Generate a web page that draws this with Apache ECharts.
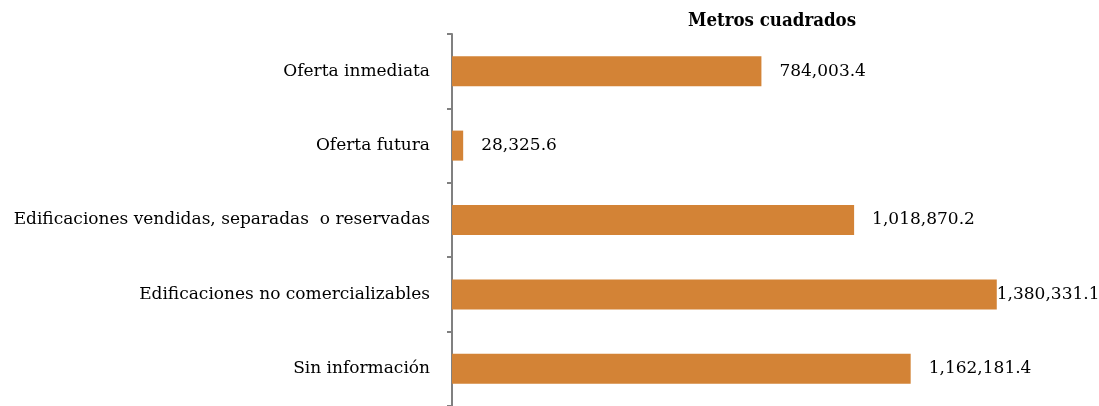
<!DOCTYPE html>
<html>
<head>
<meta charset="utf-8">
<script src="https://cdn.jsdelivr.net/npm/echarts@6/dist/echarts.min.js"></script>
<style>
html,body{margin:0;padding:0;background:#fff;}
#chart{width:1099px;height:406px;}
</style>
</head>
<body>
<div id="chart"></div>
<script>
const categories = [
  "Oferta inmediata",
  "Oferta futura",
  "Edificaciones vendidas, separadas  o reservadas",
  "Edificaciones no comercializables",
  "Sin información"
];
const values = [784003.4, 28325.6, 1018870.2, 1380331.1, 1162181.4];
const titleText = "Metros cuadrados";

function fmt(v) {
  const parts = v.toFixed(1).split(".");
  parts[0] = parts[0].replace(/\B(?=(\d{3})+(?!\d))/g, ",");
  return parts.join(".");
}

const maxVal = Math.max(...values);
const chart = echarts.init(document.getElementById("chart"), null, {renderer: "canvas"});
chart.setOption({
  animation: false,
  backgroundColor: "#ffffff",
  title: {
    text: titleText,
    left: 683,
    top: 7,
    textStyle: {
      fontFamily: "DejaVu Serif Condensed",
      fontWeight: "bold",
      fontSize: 18.5,
      color: "#000"
    }
  },
  grid: {left: 452, top: 34, width: 592, height: 375, containLabel: false},
  xAxis: {type: "value", min: 0, max: 1500000, show: false},
  yAxis: {
    type: "category",
    data: categories,
    inverse: true,
    axisLine: {show: true, lineStyle: {color: "#808080", width: 2}},
    axisTick: {show: true, length: 5, lineStyle: {color: "#808080", width: 2}},
    axisLabel: {
      margin: 22,
      color: "#000",
      fontFamily: "DejaVu Serif",
      fontSize: 17,
      padding: [3, 0, 0, 0]
    },
    splitLine: {show: false}
  },
  series: [{
    type: "bar",
    barWidth: 30,
    data: values.map(v => ({
      value: v,
      label: {distance: v === maxVal ? 0 : 18}
    })),
    itemStyle: {color: "#D38336"},
    label: {
      show: true,
      position: "right",
      color: "#000",
      fontFamily: "DejaVu Serif",
      fontSize: 17,
      padding: [3, 0, 0, 0],
      formatter: p => fmt(p.value)
    }
  }]
});
</script>
</body>
</html>
